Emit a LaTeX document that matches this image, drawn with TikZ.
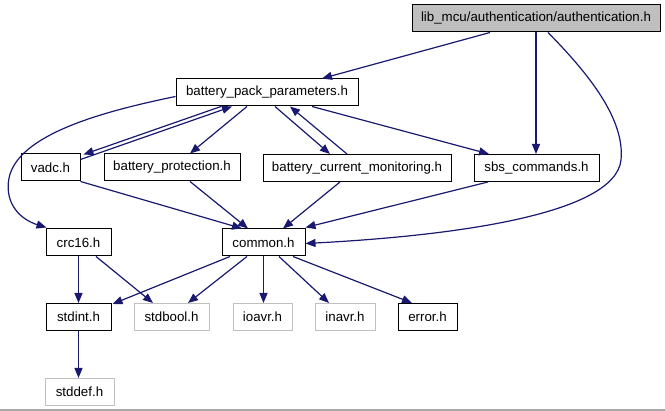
\documentclass[tikz,border=0pt]{standalone}
\usepackage{fontspec}
\setmainfont{Liberation Sans}
\usetikzlibrary{arrows.meta}
\definecolor{edgeblue}{HTML}{191970}
\definecolor{rootfill}{HTML}{BFBFBF}
\definecolor{sysframe}{HTML}{C0C0C0}
\definecolor{rulegray}{HTML}{A8A8A8}
\begin{document}
\begin{tikzpicture}[x=1pt,y=-1pt,
  file/.style={draw=black,line width=1pt,fill=white,inner sep=0pt,
    minimum height=27pt,font=\fontsize{13.3}{15}\selectfont},
  sysfile/.style={file,draw=sysframe},
  rootfile/.style={file,fill=rootfill},
  dep/.style={draw=edgeblue,line width=1.2pt,
    -{Triangle[length=10pt,width=8pt]},color=edgeblue}]
\fill[white] (0,0) rectangle (665,411);
\useasboundingbox (0,0) rectangle (665,411);
\draw[rulegray,line width=1.6pt] (0,410.2) -- (665,410.2);

% files
\node[rootfile,minimum width=248pt] (auth) at (536,18.5) {lib\_mcu/authentication/authentication.h};
\node[file,minimum width=182pt] (bpp) at (267,92.5) {battery\_pack\_parameters.h};
\node[file,minimum width=59pt] (vadc) at (50.5,167.5) {vadc.h};
\node[file,minimum width=136pt] (bp) at (172,167.5) {battery\_protection.h};
\node[file,minimum width=188pt] (bcm) at (357,168) {battery\_current\_monitoring.h};
\node[file,minimum width=125pt] (sbs) at (536.5,168) {sbs\_commands.h};
\node[file,minimum width=83pt] (common) at (263.5,242.5) {common.h};
\node[file,minimum width=65pt] (crc) at (78.5,242.5) {crc16.h};
\node[file,minimum width=65pt] (stdint) at (78.5,317) {stdint.h};
\node[sysfile,minimum width=75pt] (stdbool) at (171.5,317) {stdbool.h};
\node[sysfile,minimum width=59pt] (ioavr) at (262.5,317) {ioavr.h};
\node[sysfile,minimum width=60pt] (inavr) at (345,317) {inavr.h};
\node[file,minimum width=59pt] (error) at (427.5,317) {error.h};
\node[sysfile,minimum width=69pt] (stddef) at (79.5,392) {stddef.h};

% includes of authentication.h
\draw[dep] ([xshift=-46pt]auth.south) -- ([xshift=55pt]bpp.north);
\draw[dep] (auth.south) -- (auth.south |- sbs.north);
\draw[dep] ([xshift=12pt]auth.south) .. controls (590,75) and (625,120) .. (621,160)
  .. controls (615,215) and (450,236) .. ([yshift=-1pt]common.east);

% includes of battery_pack_parameters.h
\draw[dep] ([xshift=-46pt]bpp.south) -- ([xshift=3pt,yshift=-1pt]vadc.north east);
\draw[dep] ([yshift=-6pt]vadc.north east) -- ([xshift=-35pt]bpp.south);
\draw[dep] ([xshift=-20pt]bpp.south) -- ([xshift=18pt]bp.north);
\draw[dep] ([xshift=8pt]bpp.south) -- ([xshift=-27pt]bcm.north);
\draw[dep] ([xshift=-10pt]bcm.north) -- ([xshift=23pt]bpp.south);
\draw[dep] ([xshift=45pt]bpp.south) -- ([xshift=-47.5pt]sbs.north);
\draw[dep] ([yshift=-4pt]bpp.west) .. controls (100,112) and (18,135) .. (9,178)
  .. controls (4,205) and (22,220) .. ([xshift=1pt,yshift=1pt]crc.north west);

% includes into common.h
\draw[dep] (vadc.south east) -- ([xshift=-21.5pt]common.north);
\draw[dep] ([xshift=18pt]bp.south) -- ([xshift=-15.5pt]common.north);
\draw[dep] ([xshift=-17pt]bcm.south) -- ([xshift=19.5pt]common.north);
\draw[dep] ([xshift=-48.5pt]sbs.south) -- ([yshift=1pt]common.north east);

% includes of common.h
\draw[dep] ([xshift=-33.5pt]common.south) -- ([xshift=1pt,yshift=-1pt]stdint.north east);
\draw[dep] ([xshift=-16.5pt]common.south) -- ([xshift=16.5pt]stdbool.north);
\draw[dep] (common.south) -- (common.south |- ioavr.north);
\draw[dep] ([xshift=15.5pt]common.south) -- ([xshift=-16pt]inavr.north);
\draw[dep] ([xshift=29.5pt]common.south) -- ([xshift=-15.5pt]error.north);

% includes of crc16.h and stdint.h
\draw[dep] (crc.south) -- (stdint.north);
\draw[dep] ([xshift=17.5pt]crc.south) -- ([xshift=-18.5pt]stdbool.north);
\draw[dep] (stdint.south) -- (stdint.south |- stddef.north);
\end{tikzpicture}
\end{document}
